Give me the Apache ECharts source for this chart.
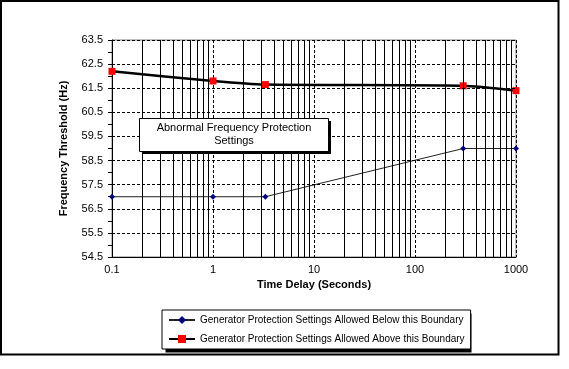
<!DOCTYPE html>
<html>
<head>
<meta charset="utf-8">
<script src="https://cdn.jsdelivr.net/npm/echarts@6/dist/echarts.min.js"></script>
<style>
html,body{margin:0;padding:0;background:#fff;}
#chart{width:569px;height:369px;}
</style>
</head>
<body>
<div id="chart"></div>
<script>
// ---- data ----
var timeDelay = [0.1, 1, 3.3, 300, 1000];
var belowBoundary = [57, 57, 57, 59, 59];
var aboveBoundary = [62.2, 61.8, 61.65, 61.6, 61.4];
var seriesNames = [
  'Generator Protection Settings Allowed Below this Boundary',
  'Generator Protection Settings Allowed Above this Boundary'
];
var xTickLabels = ['0.1', '1', '10', '100', '1000'];
var yTickLabels = ['54.5','55.5','56.5','57.5','58.5','59.5','60.5','61.5','62.5','63.5'];
var xMinorGrid = [0.2,0.3,0.4,0.5,0.6,0.7,0.8,0.9, 2,3,4,5,6,7,8,9, 20,30,40,50,60,70,80,90, 200,300,400,500,600,700,800,900];
var yGrid = [55.5,56.5,57.5,58.5,59.5,60.5,61.5,62.5,63.5];
var noteText = 'Abnormal Frequency Protection\nSettings';
var xTitle = 'Time Delay (Seconds)';
var yTitle = 'Frequency Threshold (Hz)';

function pairs(xs, ys){ return xs.map(function(x,i){ return [x, ys[i]]; }); }

var FONT = 'Liberation Sans, Arial, sans-serif';
var chart = echarts.init(document.getElementById('chart'), null, {renderer:'canvas'});

var option = {
  animation: false,
  backgroundColor: '#fff',
  grid: {left: 112, top: 40, width: 404, height: 217, show: true, borderColor: '#808080', borderWidth: 1, backgroundColor: 'transparent'},
  xAxis: {
    type: 'log', logBase: 10, min: 0.1, max: 1000,
    name: xTitle, nameLocation: 'middle', nameGap: 20,
    nameTextStyle: {fontFamily: FONT, fontSize: 11, fontWeight: 'bold', color: '#000'},
    axisLine: {lineStyle: {color: '#000', width: 1}},
    axisTick: {show: false},
    axisLabel: {fontFamily: FONT, fontSize: 11, color: '#000', margin: 7,
      formatter: function(v){
        for (var i=0;i<xTickLabels.length;i++){ if (Math.abs(Math.log10(v) - Math.log10(parseFloat(xTickLabels[i]))) < 1e-6) return xTickLabels[i]; }
        return '';
      }},
    splitLine: {show: true, lineStyle: {color: '#000', width: 1, type: [3,2]}}
  },
  yAxis: {
    type: 'value', min: 54.5, max: 63.5, interval: 0.5,
    name: yTitle, nameLocation: 'middle', nameGap: 43,
    nameTextStyle: {fontFamily: FONT, fontSize: 11, fontWeight: 'bold', color: '#000'},
    axisLine: {show: true, lineStyle: {color: '#000', width: 1}},
    axisTick: {show: true, length: 4, lineStyle: {color: '#000'}},
    axisLabel: {fontFamily: FONT, fontSize: 11, color: '#000', margin: 9,
      formatter: function(v){
        var s = v.toFixed(1);
        return yTickLabels.indexOf(s) >= 0 ? s : '';
      }},
    splitLine: {show: false}
  },
  legend: {
    data: seriesNames,
    orient: 'vertical',
    left: 162, top: 310,
    itemWidth: 26, itemHeight: 10, itemGap: 9,
    padding: [5, 6, 5, 6],
    backgroundColor: '#fff', borderColor: '#000', borderWidth: 1,
    textStyle: {fontFamily: FONT, fontSize: 10, color: '#000'},
    selectedMode: false
  },
  graphic: [
    {type: 'rect', z: 1, shape: {x: 1, y: 1, width: 557.5, height: 353.5}, style: {fill: 'none', stroke: '#000', lineWidth: 2}},
    {type: 'rect', z: 10, shape: {x: 142, y: 121, width: 189, height: 33}, style: {fill: '#000'}},
    {type: 'rect', z: 11, shape: {x: 139.5, y: 118.5, width: 189, height: 33}, style: {fill: '#fff', stroke: '#000', lineWidth: 1}},
    {type: 'text', z: 12, x: 234, y: 121, style: {text: noteText, fontFamily: FONT, fontSize: 11, fill: '#000', textAlign: 'center', textVerticalAlign: 'top', lineHeight: 13}},
    {type: 'rect', z: 3, shape: {x: 165.5, y: 313.5, width: 306, height: 39}, style: {fill: '#000'}}
  ],
  series: [
    {
      name: 'grid-helper', type: 'line', data: [], z: 1, silent: true, symbol: 'none',
      markLine: {
        silent: true, symbol: ['none','none'], label: {show: false},
        animation: false,
        lineStyle: {color: '#000', width: 1, type: 'solid'},
        emphasis: {disabled: true},
        data: xMinorGrid.map(function(v){ return {xAxis: v}; }).concat(
          yGrid.map(function(v){ return {yAxis: v, lineStyle: {type: [3,2], color: '#000', width: 1}}; }))
      }
    },
    {
      name: seriesNames[0], type: 'line', z: 3, clip: false,
      data: pairs(timeDelay, belowBoundary),
      symbol: 'diamond', symbolSize: 6,
      itemStyle: {color: '#000080'},
      lineStyle: {color: '#222', width: 1}
    },
    {
      name: seriesNames[1], type: 'line', z: 4, clip: false, smooth: 0.2,
      data: pairs(timeDelay, aboveBoundary),
      symbol: 'rect', symbolSize: 7,
      itemStyle: {color: '#ff0000'},
      lineStyle: {color: '#000', width: 2.5}
    }
  ]
};
chart.setOption(option);
</script>
</body>
</html>
